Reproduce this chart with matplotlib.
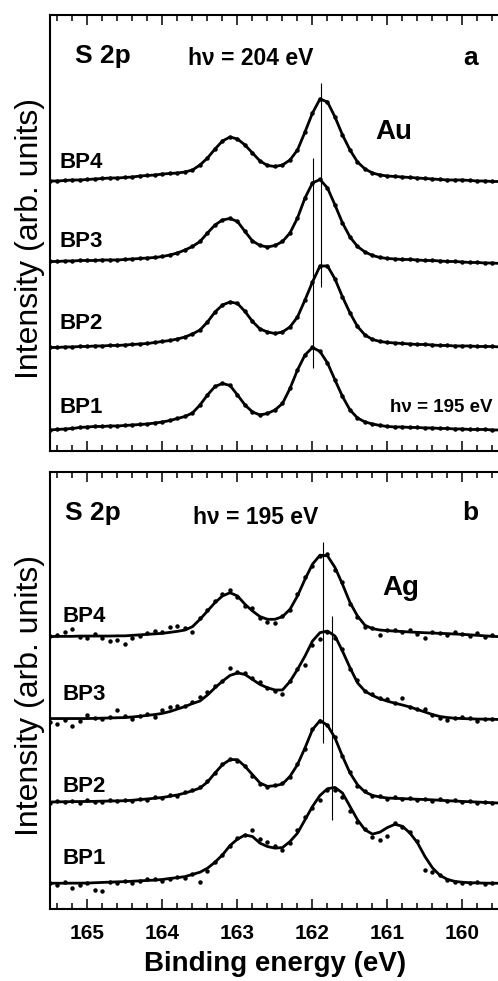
import numpy as np
import matplotlib.pyplot as plt
from matplotlib.ticker import MultipleLocator

plt.rcParams['font.family'] = ['Liberation Sans', 'DejaVu Sans']

# binding energy grid (eV), 0.1 eV steps from 165.5 down to 159.5
energy = np.round(np.arange(165.5, 159.45, -0.1), 2)

# S 2p spectra on Au, stacked (arb. units)
au_bp4 = [270, 270, 270.5, 271, 271, 271.5, 272, 272.5, 273, 273,
          273.5, 274, 275, 275.5, 276, 277, 277.5, 278, 279, 281,
          286, 293, 302, 310, 314, 312, 306, 298, 290, 285.5,
          284.5, 286, 291, 301, 319, 338, 352, 349, 334, 316,
          301, 289, 282, 278, 276, 275, 274.5, 274, 273.5, 273,
          272.5, 272, 271.5, 271, 271, 271, 270.5, 270, 270, 269.5,
          269.5]
au_bp3 = [189.5, 189.5, 190, 190, 190.5, 190.5, 190.5, 191, 191, 191,
          191.5, 192, 192.5, 193, 193.5, 194.5, 196, 198, 201, 204.5,
          209.5, 218, 226, 231, 232.5, 229.5, 219.5, 210, 205.5, 204,
          205.5, 209.5, 218, 233, 253, 268, 271.5, 263, 246, 228,
          214, 204.5, 199, 195.5, 193.5, 192.5, 192, 191.5, 191.5, 191,
          190.5, 190.5, 190, 189.5, 189.5, 189, 188.5, 188.5, 188, 188,
          187.5]
au_bp2 = [103.5, 103.5, 104, 104, 104.5, 104.5, 105, 105, 105.5, 105.5,
          106, 106.5, 107, 107.5, 108.5, 109.5, 110.5, 112, 114, 117,
          121, 129, 139, 146, 149, 147.5, 139.5, 129.5, 122, 119,
          117.5, 119, 124, 134, 151, 169, 185, 185, 172, 154,
          138, 124.5, 116, 111.5, 109.5, 108.5, 108, 107.5, 107, 106.5,
          106.5, 106, 105.5, 105.5, 105, 105, 105, 104.5, 104.5, 104.5,
          104]
au_bp1 = [21, 21.5, 22, 22.5, 23.5, 24, 24.5, 24.5, 25, 25,
          25.5, 26, 26.5, 27, 28, 29, 30.5, 32.5, 34.5, 38,
          46, 56, 64.5, 67.5, 65.5, 56, 46, 39, 36, 37.5,
          41, 47.5, 62.5, 81, 96, 103.5, 99.5, 88, 71, 54.5,
          41, 33, 29, 27, 25.5, 24.5, 24, 24, 23.5, 23.5,
          23, 23, 22.5, 22.5, 22, 22, 21.5, 21.5, 21.5, 21,
          21]

# S 2p spectra on Ag: fitted envelope and measured points
ag_bp4_fit = [271.7, 272, 272, 272, 272.3, 272.3, 272.3, 272.3, 272.3, 272.5,
              272.5, 273, 273.5, 274, 274.5, 275, 276, 277, 278.3, 281.7,
              289, 297.3, 305.7, 312.3, 315.5, 312.3, 304, 297.3, 291.7, 289,
              289, 291.7, 299, 312.3, 329, 344, 353, 352.3, 340.7, 324,
              305.7, 292.3, 283, 279.7, 278.3, 277.7, 277.2, 276.8, 276.3, 276,
              275.6, 275.3, 275, 274.7, 274.3, 274, 273.5, 273, 272.5, 272,
              271.7]
ag_bp4_data = [272, 273.5, 276, 279, 271, 270.5, 274, 270, 267, 268,
               264, 270.5, 272, 275, 277, 276, 281, 282, 280, 276,
               290, 298, 307, 314, 318, 311, 302, 300, 290, 286,
               285, 292, 298, 314, 331, 342, 352, 354, 338, 326,
               304, 291, 281, 280, 273, 278.5, 278, 276, 278, 274,
               270.5, 276, 275.5, 273, 276, 274.5, 272, 275, 271.5, 273,
               271]
ag_bp3_fit = [190, 190, 190, 190, 190, 190, 190.2, 190.4, 190.6, 190.8,
              191, 191.6, 192.3, 193.2, 194, 195.2, 197, 199.5, 202, 205,
              207.5, 213.5, 220.7, 227.3, 233, 235.5, 234, 229, 224, 220.7,
              218.5, 218.5, 227, 239, 252.3, 267.3, 275.7, 277.3, 272.3, 257.3,
              240.7, 225.7, 217.3, 213, 209.7, 207.3, 205.3, 203.5, 201.5, 199,
              196.5, 194, 192, 191, 190.3, 190, 189.7, 189.5, 189.4, 189.3,
              189]
ag_bp3_data = [187, 185, 189, 183, 188, 194, 190.5, 189.5, 192, 199,
               193, 190, 193, 194.5, 192, 199, 202, 203, 202.5, 207,
               211, 216, 222, 227, 240.5, 236, 235.5, 230, 226, 220.5,
               217.5, 214, 227, 239, 243, 263, 269, 276.5, 270, 259,
               239, 228, 217, 214, 210.5, 209, 206, 210.5, 202, 200,
               200, 194, 191, 189, 190.5, 192, 191, 188, 189.5, 190,
               188.5]
ag_bp2_fit = [106.7, 106.9, 107, 107.1, 107.2, 107.3, 107.4, 107.6, 107.7, 107.9,
              108, 108.5, 109.2, 109.8, 110.5, 111.3, 112.5, 113.8, 115.7, 118,
              120.7, 126.7, 135.7, 144, 149, 149, 142.3, 134, 125.7, 122.3,
              123, 124.7, 132.3, 144, 160.7, 179, 188, 183.3, 170.7, 152.3,
              135.7, 124, 116.7, 113.3, 111.7, 110.7, 110.4, 110.1, 109.8, 109.5,
              109.2, 108.9, 108.5, 108, 107.7, 107.3, 107, 106.7, 106.3, 106,
              105.7]
ag_bp2_data = [106, 107.5, 106.5, 108, 106, 108.5, 107, 106.5, 108.5, 107.5,
               109, 108, 110, 109, 111.5, 111, 113.5, 113, 116.5, 118.5,
               121.5, 127.5, 136, 145, 149.5, 148, 143, 133, 125, 121.5,
               123.5, 125.5, 131.5, 145, 160, 180, 187.5, 183.5, 171.5, 153,
               136.5, 123, 117.5, 112.5, 112.5, 110, 111.5, 110, 111, 109,
               110, 108, 109.5, 107.5, 108.5, 106.5, 107.5, 106, 107, 105.5,
               106]
ag_bp1_fit = [25.7, 25.7, 25.7, 25.8, 25.8, 25.9, 26.2, 26.5, 26.8, 27.1,
              27.3, 27.7, 28.1, 28.5, 28.8, 29.5, 30.5, 31.3, 32.3, 34.5,
              36.7, 40.7, 46.7, 54, 63.3, 69.7, 73.8, 72.3, 65.7, 62.3,
              60.7, 61.3, 67.3, 75.7, 89, 102.3, 113.3, 120, 121.3, 115.7,
              102.3, 89, 79, 74.7, 76.7, 81.3, 84.5, 82.5, 75.7, 66,
              52.3, 41, 33.5, 29.5, 27.5, 26.7, 26.2, 26, 25.8, 25.7,
              25.7]
ag_bp1_data = [25.5, 24, 26.5, 21, 23.5, 25.5, 19, 17.5, 27, 25.5,
               28, 26, 28, 30, 29.5, 27.5, 30, 31.5, 30.5, 34.5,
               27, 37.5, 47, 54, 62.5, 70.5, 74, 79, 70, 67,
               62.5, 59, 66, 79, 92, 100.5, 109, 119, 118.5, 112,
               97.5, 87, 80, 72, 69, 72.5, 85.5, 82, 77, 68,
               39, 37, 34, 29, 27, 26, 25.5, 26.5, 25, 26,
               24.5]

# peak-position markers: energy, lower end, upper end
au_marks = [(161.89, 164, 368), (161.99, 83, 293)]
ag_marks = [(161.86, 166, 366), (161.745, 89, 292)]

tick_values = [165, 164, 163, 162, 161, 160]
tick_labels = ['165', '164', '163', '162', '161', '160']
labels = ['BP4', 'BP3', 'BP2', 'BP1']

fig = plt.figure(figsize=(4.98, 9.81), dpi=100)
ax_a = fig.add_axes([0.1004, 0.5403, 0.9036, 0.4444])
ax_b = fig.add_axes([0.1004, 0.0734, 0.9036, 0.4455])

for ax in (ax_a, ax_b):
    ax.set_xlim(165.5, 159.5)
    ax.set_ylim(0, 436)
    ax.set_yticks([])
    ax.set_xticks(tick_values)
    ax.xaxis.set_minor_locator(MultipleLocator(0.2))
    ax.tick_params(axis='x', which='both', direction='in', top=True,
                   bottom=True, width=1.1, color='black')
    ax.tick_params(axis='x', which='major', length=7.5, pad=10.5)
    ax.tick_params(axis='x', which='minor', length=4)
    for sp in ax.spines.values():
        sp.set_linewidth(1.5)
    ax.set_ylabel('Intensity (arb. units)', fontsize=23)
    ax.yaxis.set_label_coords(-0.012, 0.488)

# panel a: Au
for y in (au_bp4, au_bp3, au_bp2, au_bp1):
    ax_a.plot(energy, y, color='black', lw=2.0)
    ax_a.plot(energy, y, 'o', color='black', ms=3.2, mec='none')
for e, lo, hi in au_marks:
    ax_a.vlines(e, lo, hi, color='black', lw=0.8)
ax_a.tick_params(labelbottom=False)

ax_a.text(0.056, 0.89, 'S 2p', transform=ax_a.transAxes, fontsize=19, fontweight='bold')
ax_a.text(0.307, 0.885, 'h\u03bd = 204 eV', transform=ax_a.transAxes, fontsize=16.5, fontweight='bold')
ax_a.text(0.918, 0.885, 'a', transform=ax_a.transAxes, fontsize=19, fontweight='bold')
ax_a.text(0.722, 0.715, 'Au', transform=ax_a.transAxes, fontsize=20, fontweight='bold')
ax_a.text(0.756, 0.089, 'h\u03bd = 195 eV', transform=ax_a.transAxes, fontsize=13.5, fontweight='bold')
for lab, yy in zip(labels, [0.649, 0.4686, 0.279, 0.0865]):
    ax_a.text(0.022, yy, lab, transform=ax_a.transAxes, fontsize=16, fontweight='bold')

# panel b: Ag
for fit, pts in ((ag_bp4_fit, ag_bp4_data), (ag_bp3_fit, ag_bp3_data),
                 (ag_bp2_fit, ag_bp2_data), (ag_bp1_fit, ag_bp1_data)):
    ax_b.plot(energy, fit, color='black', lw=2.0)
    ax_b.plot(energy, pts, 'o', color='black', ms=3.2, mec='none')
for e, lo, hi in ag_marks:
    ax_b.vlines(e, lo, hi, color='black', lw=0.8)
ax_b.set_xticklabels(tick_labels, fontsize=15, fontweight='bold')

ax_b.text(0.033, 0.89, 'S 2p', transform=ax_b.transAxes, fontsize=19, fontweight='bold')
ax_b.text(0.318, 0.882, 'h\u03bd = 195 eV', transform=ax_b.transAxes, fontsize=16.5, fontweight='bold')
ax_b.text(0.915, 0.889, 'b', transform=ax_b.transAxes, fontsize=19, fontweight='bold')
ax_b.text(0.738, 0.7185, 'Ag', transform=ax_b.transAxes, fontsize=20, fontweight='bold')
for lab, yy in zip(labels, [0.657, 0.478, 0.268, 0.102]):
    ax_b.text(0.027, yy, lab, transform=ax_b.transAxes, fontsize=16, fontweight='bold')

ax_b.set_xlabel('Binding energy (eV)', fontsize=20, fontweight='bold')
ax_b.xaxis.set_label_coords(0.5, -0.095)

fig.savefig('out.png', dpi=100)
